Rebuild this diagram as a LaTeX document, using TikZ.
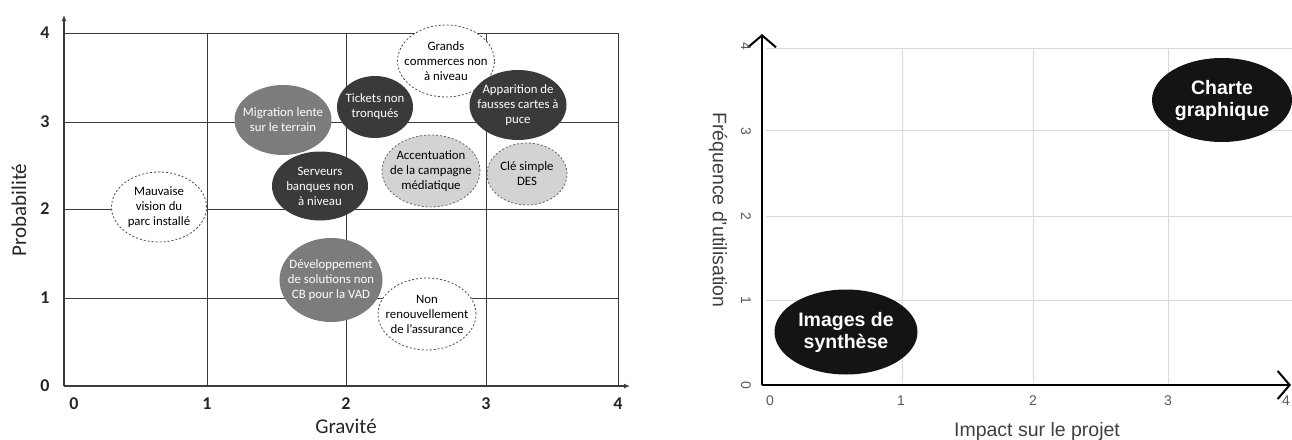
\documentclass[tikz,border=0pt]{standalone}
\usepackage{fontspec}
\setmainfont{Carlito}
\newfontfamily\helv{Liberation Sans}
\usetikzlibrary{shapes.geometric,arrows.meta}

\definecolor{riskdark}{HTML}{3A3A3A}
\definecolor{riskmid}{HTML}{7C7C7C}
\definecolor{risklight}{HTML}{D3D3D3}
\definecolor{gridgray}{HTML}{3C3C3C}
\definecolor{softgrid}{HTML}{DADADA}
\definecolor{ticktext}{HTML}{5A5A5A}

\tikzset{
  bubble/.style={ellipse, inner sep=0pt, draw=none},
  darkbubble/.style={bubble, fill=riskdark},
  midbubble/.style={bubble, fill=riskmid},
  lightbubble/.style={bubble, fill=risklight, draw=gray!80!black, dashed, dash pattern=on 2pt off 2pt, line width=0.8pt},
  openbubble/.style={bubble, fill=white, draw=gray!60!black, dashed, dash pattern=on 2pt off 2pt, line width=0.8pt},
  bubbletext/.style={align=center, inner sep=0pt, font=\fontsize{12.8}{15}\selectfont},
  lighttext/.style={bubbletext, text=white},
  gridline/.style={draw=gridgray, line width=1pt},
  ticknum/.style={font=\fontsize{18}{20}\selectfont\bfseries, text=black!85, inner sep=0pt},
  axtitle/.style={font=\fontsize{21}{23}\selectfont, text=black!85, inner sep=0pt},
  softline/.style={draw=softgrid, line width=1pt},
  hticks/.style={font=\helv\fontsize{14}{16}\selectfont, text=ticktext, inner sep=0pt},
  htitle/.style={font=\helv\fontsize{19.5}{22}\selectfont, text=black!75, inner sep=0pt},
  blackbubble/.style={bubble, fill=black!92},
  blacktext/.style={align=center, inner sep=0pt, text=white, font=\helv\bfseries\fontsize{19.5}{22}\selectfont}
}

\begin{document}
\begin{tikzpicture}[x=1pt,y=-1pt]
\useasboundingbox (0,0) rectangle (1292,439);

% ---------------- risk matrix: Gravité / Probabilité ----------------
\coordinate (o) at (64,386);
\coordinate (ytop) at (64,15);
\coordinate (xend) at (630,386);
% grid
\foreach \yy in {298,209,122,33} \draw[gridline] (64,\yy) -- (618,\yy);
\foreach \xx in {207,346,486,618} \draw[gridline] (\xx,33) -- (\xx,386);
% axes
\draw[draw=gridgray, line width=1.2pt, -{Latex[length=6pt,width=5pt]}] (o) -- (ytop);
\draw[draw=gridgray, line width=1.2pt, -{Latex[length=6pt,width=5pt]}] (o) -- (xend);
% tick labels
\foreach \yy/\lab in {386/0,298/1,209/2,122/3,33/4} \node[ticknum] (py\lab) at (45,\yy) {\lab};
\foreach \xx/\lab in {74/0,207/1,346/2,486/3,618/4} \node[ticknum] (gx\lab) at (\xx,404) {\lab};
\node[axtitle] (gravite) at (346,426) {Gravité};
\node[axtitle, rotate=90] (proba) at (19,210) {Probabilité};

% risks
\node[openbubble, minimum width=97pt, minimum height=72pt] (grands) at (446,61) {};
\node[bubbletext] (grands-t) at (grands) {Grands\\commerces non\\à niveau};

\node[darkbubble, minimum width=76pt, minimum height=62pt] (tickets) at (375,107) {};
\node[lighttext] (tickets-t) at (tickets) {Tickets non\\tronqués};

\node[darkbubble, minimum width=97pt, minimum height=70pt] (fausses) at (518,105) {};
\node[lighttext] (fausses-t) at (fausses) {Apparition de\\fausses cartes à\\puce};

\node[midbubble, minimum width=97pt, minimum height=70pt] (migration) at (283,120) {};
\node[lighttext] (migration-t) at (migration) {Migration lente\\sur le terrain};

\node[darkbubble, minimum width=96pt, minimum height=69pt] (serveurs) at (320,186) {};
\node[lighttext] (serveurs-t) at (serveurs) {Serveurs\\banques non\\à niveau};

\node[lightbubble, minimum width=98pt, minimum height=72pt] (campagne) at (431,171) {};
\node[bubbletext] (campagne-t) at (campagne) {Accentuation\\de la campagne\\médiatique};

\node[lightbubble, minimum width=80pt, minimum height=62pt] (des) at (527,174) {};
\node[bubbletext] (des-t) at (des) {Clé simple\\DES};

\node[openbubble, minimum width=95pt, minimum height=70pt] (parc) at (159,207) {};
\node[bubbletext] (parc-t) at (parc) {Mauvaise\\vision du\\parc installé};

\node[midbubble, minimum width=103pt, minimum height=84pt] (vad) at (331,280) {};
\node[lighttext] (vad-t) at (vad) {Développement\\de solutions non\\CB pour la VAD};

\node[openbubble, minimum width=98pt, minimum height=72pt] (assurance) at (427,314) {};
\node[bubbletext] (assurance-t) at (assurance) {Non\\renouvellement\\de l’assurance};

% ---------------- usage map: Impact / Fréquence ----------------
\coordinate (o2) at (762,385);
\coordinate (ytop2) at (762,34);
\coordinate (xend2) at (1291,385);
\foreach \yy in {300,216,130,48} \draw[softline] (766,\yy) -- (1292,\yy);
\foreach \xx in {902,1033,1168} \draw[softline] (\xx,48) -- (\xx,383);
\draw[line width=2pt, -{Straight Barb[length=12pt,width=28pt,line width=2pt]}] (o2) -- (ytop2);
\draw[line width=2pt, -{Straight Barb[length=12pt,width=28pt,line width=2pt]}] (o2) -- (xend2);
\foreach \yy/\lab in {385/0,300/1,216/2,131/3,46/4} \node[hticks, rotate=-90] (fy\lab) at (746,\yy) {\lab};
\foreach \xx/\lab in {770/0,901/1,1033/2,1168/3,1286/4} \node[hticks] (ix\lab) at (\xx,401) {\lab};
\node[htitle] (impact) at (1037,431) {Impact sur le projet};
\node[htitle, rotate=-90] (freq) at (718,210) {Fréquence d’utilisation};

\node[blackbubble, minimum width=143pt, minimum height=85pt] (images) at (846,332) {};
\node[blacktext] (images-t) at (images) {Images de\\synthèse};

\node[blackbubble, minimum width=140pt, minimum height=84pt] (charte) at (1222,100) {};
\node[blacktext] (charte-t) at (charte) {Charte\\graphique};
\end{tikzpicture}
\end{document}
